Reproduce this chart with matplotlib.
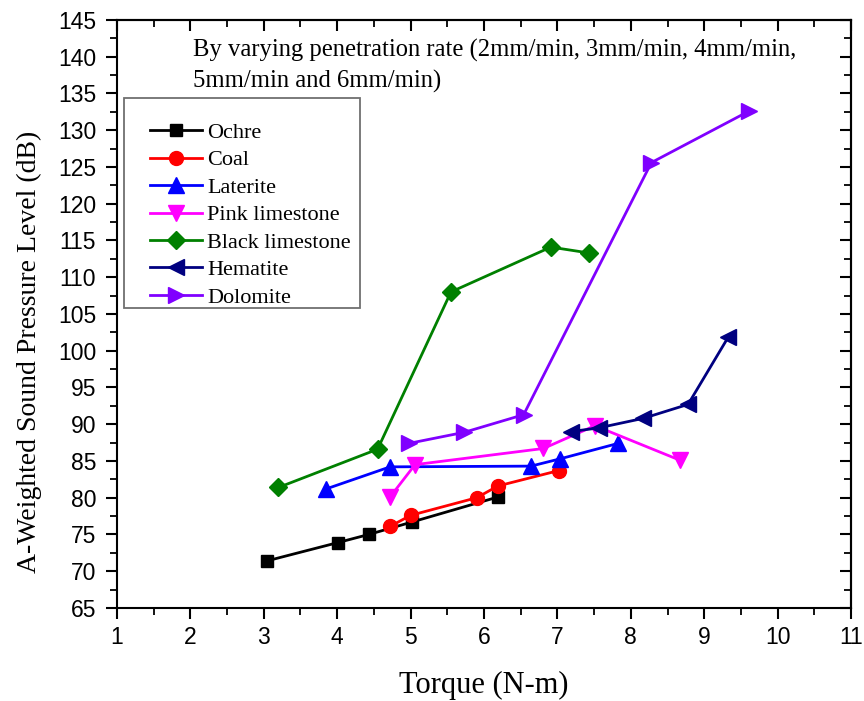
import matplotlib
matplotlib.use("Agg")
import matplotlib.pyplot as plt
from matplotlib.ticker import MultipleLocator
from matplotlib.patches import Rectangle

names = ["Ochre", "Coal", "Laterite", "Pink limestone", "Black limestone", "Hematite", "Dolomite"]

ochre_x = [3.04, 4.01, 4.43, 5.02, 6.19]
ochre_y = [71.4, 73.9, 75.0, 76.7, 80.1]
coal_x = [4.72, 5.00, 5.90, 6.19, 7.02]
coal_y = [76.1, 77.6, 80.0, 81.6, 83.7]
laterite_x = [3.85, 4.72, 6.64, 7.04, 7.83]
laterite_y = [81.2, 84.2, 84.3, 85.3, 87.4]
pink_x = [4.72, 5.06, 6.81, 7.51, 8.67]
pink_y = [80.1, 84.5, 86.7, 89.8, 85.1]
black_x = [3.20, 4.55, 5.55, 6.91, 7.43]
black_y = [81.4, 86.6, 108.0, 114.1, 113.3]
hematite_x = [7.19, 7.56, 8.17, 8.78, 9.33]
hematite_y = [89.0, 89.5, 90.8, 92.7, 101.9]
dolomite_x = [4.98, 5.73, 6.54, 8.28, 9.61]
dolomite_y = [87.4, 88.9, 91.3, 125.6, 132.6]

series_x = [ochre_x, coal_x, laterite_x, pink_x, black_x, hematite_x, dolomite_x]
series_y = [ochre_y, coal_y, laterite_y, pink_y, black_y, hematite_y, dolomite_y]
colors = ["#000000", "#FF0000", "#0000FF", "#FF00FF", "#008000", "#000080", "#8000FF"]
markers = ["s", "o", "^", "v", "D", "<", ">"]
msizes = [9, 10, 11, 11, 9, 11, 11]

x_ticks = list(range(1, 12))
y_ticks = list(range(65, 146, 5))

serif = ["Liberation Serif", "DejaVu Serif"]
tickfont = ["Liberation Sans", "DejaVu Sans"]

fig = plt.figure(figsize=(8.64, 7.01), dpi=100)
ax = fig.add_axes([0.1354, 0.1327, 0.8496, 0.8388])

handles = []
for xs, ys, c, m, ms, n in zip(series_x, series_y, colors, markers, msizes, names):
    h, = ax.plot(xs, ys, color=c, marker=m, markersize=ms, linewidth=2.0, label=n)
    handles.append(h)

ax.set_xlim(1, 11)
ax.set_ylim(65, 145)
ax.set_xticks(x_ticks)
ax.set_yticks(y_ticks)
ax.xaxis.set_minor_locator(MultipleLocator(0.5))
ax.yaxis.set_minor_locator(MultipleLocator(2.5))
ax.tick_params(axis="both", which="major", direction="out", length=8, width=1.5,
               labelsize=16.5)
ax.tick_params(axis="x", which="major", pad=5)
ax.tick_params(axis="y", which="major", pad=7)
ax.tick_params(axis="both", which="minor", direction="out", length=5, width=1.3)
for lab in ax.get_xticklabels() + ax.get_yticklabels():
    lab.set_family(tickfont)

# mirrored ticks on top and right pointing inward
secx = ax.secondary_xaxis("top")
secx.set_xticks(x_ticks)
secx.xaxis.set_minor_locator(MultipleLocator(0.5))
secx.tick_params(which="major", direction="in", length=8, width=1.5, labeltop=False)
secx.tick_params(which="minor", direction="in", length=5, width=1.3)
secy = ax.secondary_yaxis("right")
secy.set_yticks(y_ticks)
secy.yaxis.set_minor_locator(MultipleLocator(2.5))
secy.tick_params(which="major", direction="in", length=8, width=1.5, labelright=False)
secy.tick_params(which="minor", direction="in", length=5, width=1.3)
for sp in list(ax.spines.values()) + [secx.spines["top"], secy.spines["right"]]:
    sp.set_linewidth(1.5)

ax.set_xlabel("Torque (N-m)", fontsize=22, family=serif)
ax.xaxis.set_label_coords(0.5, -0.107)
ax.set_ylabel("A-Weighted Sound Pressure Level (dB)", fontsize=20, family=serif)
ax.yaxis.set_label_coords(-0.102, 0.435)

ax.text(0.1035, 0.968, "By varying penetration rate (2mm/min, 3mm/min, 4mm/min,\n5mm/min and 6mm/min)",
        transform=ax.transAxes, ha="left", va="top", fontsize=17.7, family=serif,
        linespacing=1.45)

# legend box
ax.add_patch(Rectangle((0.0095, 0.5102), 0.3215, 0.357, transform=ax.transAxes,
                       facecolor="white", edgecolor="#707070", linewidth=1.3, zorder=4))
leg = ax.legend(handles=handles, loc="upper left", bbox_to_anchor=(0.045, 0.8257),
                frameon=False, prop={"family": serif, "size": 16},
                handlelength=2.34, labelspacing=0.31, borderpad=0, borderaxespad=0,
                handletextpad=0.23)
leg.set_zorder(5)

fig.savefig("out.png", dpi=100)
